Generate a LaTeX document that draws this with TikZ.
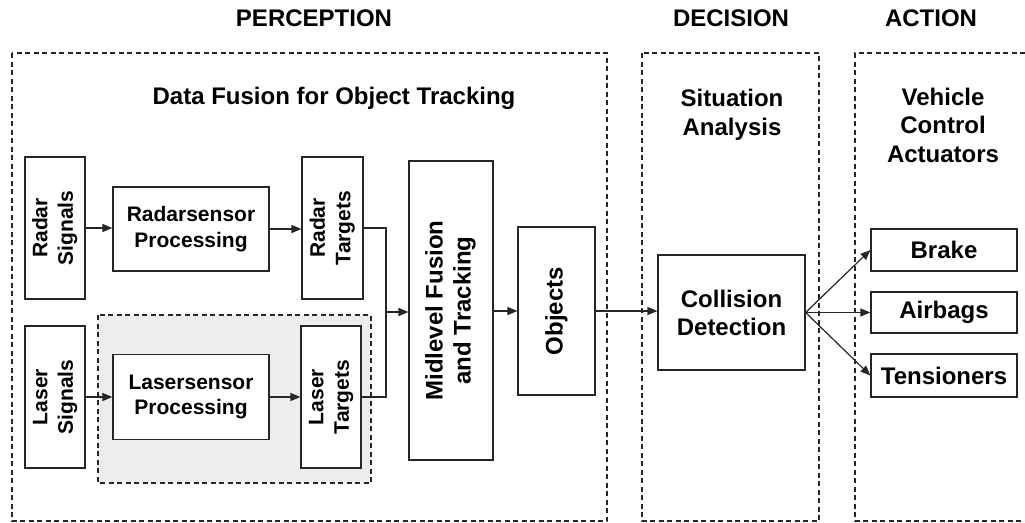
\documentclass[tikz,border=0pt]{standalone}
\usepackage{fontspec}
\setmainfont{Liberation Sans}
\usetikzlibrary{arrows.meta}
\tikzset{
  boxbig/.style={draw=black!85, line width=1.2pt, fill=white, inner sep=0pt, align=center,
    font=\bfseries\fontsize{24}{28}\selectfont},
  boxsmall/.style={draw=black!85, line width=1.2pt, fill=white, inner sep=0pt, align=center,
    font=\bfseries\fontsize{21}{25.5}\selectfont},
  dbox/.style={draw=black!85, line width=1.4pt, dash pattern=on 5pt off 3.5pt},
  conn/.style={line width=1.2pt, draw=black!85},
  arr/.style={conn, -{Triangle[length=10pt,width=8pt]}},
  lbl/.style={font=\bfseries\fontsize{24}{28.5}\selectfont, align=center, inner sep=0pt}
}
\begin{document}
\begin{tikzpicture}[x=1pt,y=-1pt]
\useasboundingbox (0,0) rectangle (1025,522);
% containers
\draw[dbox] (12,53) rectangle (607,521);
\draw[dbox] (642,53) rectangle (819,521);
\draw[dbox] (1025,53) -- (855,53) -- (855,521) -- (1025,521);
\draw[dbox, fill=gray!14] (98,315) rectangle (371,483);
% titles
\node[lbl] (tper) at (314,18) {PERCEPTION};
\node[lbl] (tdec) at (731,18) {DECISION};
\node[lbl] (tact) at (931,18) {ACTION};
\node[lbl] (tdf) at (334,98) {Data Fusion for Object Tracking};
\node[lbl] (tsa) at (732,115) {Situation\\Analysis};
\node[lbl] (tvc) at (943,125) {Vehicle\\Control\\Actuators};
% perception nodes
\node[boxsmall, minimum width=60pt, minimum height=142pt] (rs) at (55,228)
  {\rotatebox{90}{\begin{tabular}{@{}c@{}}Radar\\Signals\end{tabular}}};
\node[boxsmall, minimum width=156pt, minimum height=84pt] (rp) at (191,229)
  {Radarsensor\\Processing};
\node[boxsmall, minimum width=61pt, minimum height=142pt] (rt) at (332.5,228)
  {\rotatebox{90}{\begin{tabular}{@{}c@{}}Radar\\Targets\end{tabular}}};
\node[boxsmall, minimum width=60pt, minimum height=142pt] (ls) at (55,397)
  {\rotatebox{90}{\begin{tabular}{@{}c@{}}Laser\\Signals\end{tabular}}};
\node[boxsmall, minimum width=156pt, minimum height=85pt] (lp) at (191,397)
  {Lasersensor\\Processing};
\node[boxsmall, minimum width=60pt, minimum height=142pt] (lt) at (331,397)
  {\rotatebox{90}{\begin{tabular}{@{}c@{}}Laser\\Targets\end{tabular}}};
\node[boxbig, minimum width=84pt, minimum height=299pt] (mf) at (451,310.5)
  {\rotatebox{90}{\begin{tabular}{@{}c@{}}Midlevel Fusion\\and Tracking\end{tabular}}};
\node[boxbig, minimum width=77pt, minimum height=168pt] (obj) at (556.5,311)
  {\rotatebox{90}{Objects}};
% decision
\node[boxbig, minimum width=147pt, minimum height=115pt] (cd) at (731.5,312.5)
  {Collision\\Detection};
% action
\node[boxbig, minimum width=146pt, minimum height=42pt] (br) at (944,250) {Brake};
\node[boxbig, minimum width=146pt, minimum height=41pt] (ab) at (944,312.5) {Airbags};
\node[boxbig, minimum width=146pt, minimum height=43pt] (tn) at (944,375.5) {Tensioners};
% connectors
\coordinate (j) at (386,312);
\draw[arr] (rs.east) -- (rs.east -| rp.west);
\draw[arr] (rp.east) -- (rp.east -| rt.west);
\draw[arr] (ls.east) -- (ls.east -| lp.west);
\draw[arr] (lp.east) -- (lp.east -| lt.west);
\draw[conn] (rt.east) -| (j);
\draw[conn] (lt.east) -| (j);
\draw[arr] (j) -- (j -| mf.west);
\draw[arr] (mf.east |- obj.east) -- (obj.west);
\draw[arr] (obj.east) -- (obj.east -| cd.west);
\draw[arr] (cd.east) -- (br.west);
\draw[arr] (cd.east) -- (ab.west);
\draw[arr] (cd.east) -- (tn.west);
\end{tikzpicture}
\end{document}
